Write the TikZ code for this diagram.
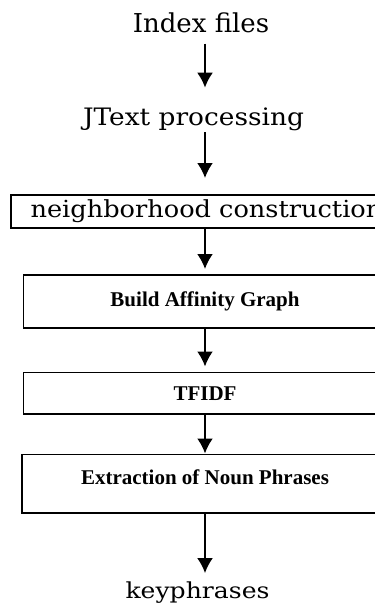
\documentclass[tikz,border=0pt]{standalone}
\usepackage{fontspec}
\usepackage{graphicx}
\usetikzlibrary{arrows.meta}
\newfontfamily\stagefont{Liberation Serif}
\newfontfamily\stepfont{DejaVu Serif}

\tikzset{
  txt/.style={inner sep=0, anchor=base},
  stage/.style={draw, line width=1.5, inner sep=0, outer sep=0, anchor=north west,
    font=\stagefont\bfseries\fontsize{21}{24}\selectfont},
  flow/.style={line width=2, -{Latex[length=15pt,width=16pt]}}
}

\begin{document}
\begin{tikzpicture}[x=1pt,y=-1pt]
\useasboundingbox (0,0) rectangle (375,606);
\clip (0,0) rectangle (375,606);
\fill[white] (0,0) rectangle (375,606);
%arrow column
\coordinate (ax) at (205,0);
%plain steps
\node[txt] (idx) at (201,32) {\stepfont\fontsize{26}{30}\selectfont Index files};
\node[txt] (jtp) at (193.5,125) {\stepfont\fontsize{24}{28}\selectfont\scalebox{1.1}[1]{JText processing}};
\node[txt] (kp) at (197.5,598.5) {\stepfont\fontsize{22}{25}\selectfont\scalebox{1.14}[1]{keyphrases}};
%boxed steps
\node[stage, line width=2, minimum width=391, minimum height=33, font=\stepfont\fontsize{23.5}{28}\selectfont]
  (nc) at (11,195) {\scalebox{1.09}[1]{neighborhood construction}};
\node[stage, minimum width=363, minimum height=53] (bag) at (23.5,275) {Build Affinity Graph};
\node[stage, minimum width=363, minimum height=41.5] (tfidf) at (23.5,372.5) {TFIDF};
\node[stage, minimum width=366, minimum height=58.5, text height=14, text depth=13]
  (enp) at (22,454.5) {Extraction of Noun Phrases};
%arrows
\draw[flow, shorten <=11pt, shorten >=19.5pt] (idx.south -| ax) -- (jtp.north -| ax);
\draw[flow, shorten <=1.5pt, shorten >=17pt] (jtp.south -| ax) -- (nc.north -| ax);
\draw[flow, shorten >=6pt] (nc.south -| ax) -- (bag.north -| ax);
\draw[flow, shorten >=6pt] (bag.south -| ax) -- (tfidf.north -| ax);
\draw[flow, shorten >=1pt] (tfidf.south -| ax) -- (enp.north -| ax);
\draw[flow, shorten >=8.5pt] (enp.south -| ax) -- (kp.north -| ax);
\end{tikzpicture}
\end{document}
